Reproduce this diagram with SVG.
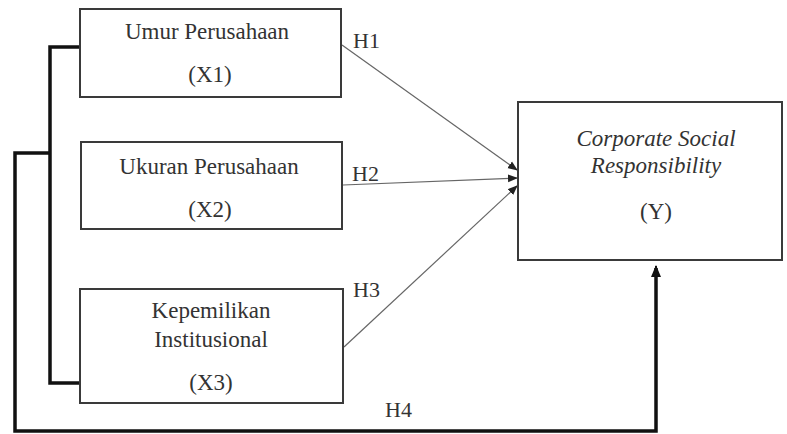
<svg xmlns="http://www.w3.org/2000/svg" width="787" height="434" viewBox="0 0 787 434">
<defs>
<style>
.box{fill:#fff;stroke:#3a3a3a;stroke-width:2}
.t{font-family:"Liberation Serif","Times New Roman",serif;font-size:23px;fill:#333;text-anchor:middle}
.lbl{font-family:"Liberation Serif","Times New Roman",serif;font-size:22px;fill:#333}
.thin{fill:none;stroke:#666;stroke-width:1.2}
.thick{fill:none;stroke:#111;stroke-width:3.5}
</style>
<marker id="ah" markerWidth="10" markerHeight="10" refX="9" refY="5" orient="auto" markerUnits="userSpaceOnUse">
<path d="M0,1 L10,5 L0,9 Z" fill="#222"/>
</marker>
<marker id="ah2" markerWidth="12" markerHeight="12" refX="11" refY="6" orient="auto" markerUnits="userSpaceOnUse">
<path d="M0,1 L12,6 L0,11 Z" fill="#111"/>
</marker>
</defs>
<rect width="787" height="434" fill="#fff"/>
<g id="connectors">
<path class="thick" d="M79,47 H50 V383 H80"/>
<path class="thick" d="M50,153 H15 V431 H656 V268"/>
<path d="M656,280 V266" stroke="#111" stroke-width="2" marker-end="url(#ah2)"/>
<line class="thin" x1="342" y1="45" x2="517" y2="170" marker-end="url(#ah)"/>
<line class="thin" x1="343" y1="185" x2="517" y2="178" marker-end="url(#ah)"/>
<line class="thin" x1="344" y1="347" x2="517" y2="186" marker-end="url(#ah)"/>
<text class="lbl" x="353" y="48">H1</text>
<text class="lbl" x="352" y="181">H2</text>
<text class="lbl" x="353" y="297">H3</text>
<text class="lbl" x="385" y="417">H4</text>
</g>
<g id="x1">
<rect class="box" x="80" y="9" width="261" height="88"/>
<text class="t" x="207" y="39">Umur Perusahaan</text>
<text class="t" x="210" y="82">(X1)</text>
</g>
<g id="x2">
<rect class="box" x="81" y="142" width="261" height="87"/>
<text class="t" x="209" y="174">Ukuran Perusahaan</text>
<text class="t" x="210" y="217">(X2)</text>
</g>
<g id="x3">
<rect class="box" x="80" y="289" width="263" height="114"/>
<text class="t" x="211" y="318">Kepemilikan</text>
<text class="t" x="211" y="347">Institusional</text>
<text class="t" x="211" y="390">(X3)</text>
</g>
<g id="y">
<rect class="box" x="518" y="102" width="264" height="158"/>
<text class="t" x="656" y="146" font-style="italic">Corporate Social</text>
<text class="t" x="656" y="173" font-style="italic">Responsibility</text>
<text class="t" x="656" y="219">(Y)</text>
</g>
</svg>
